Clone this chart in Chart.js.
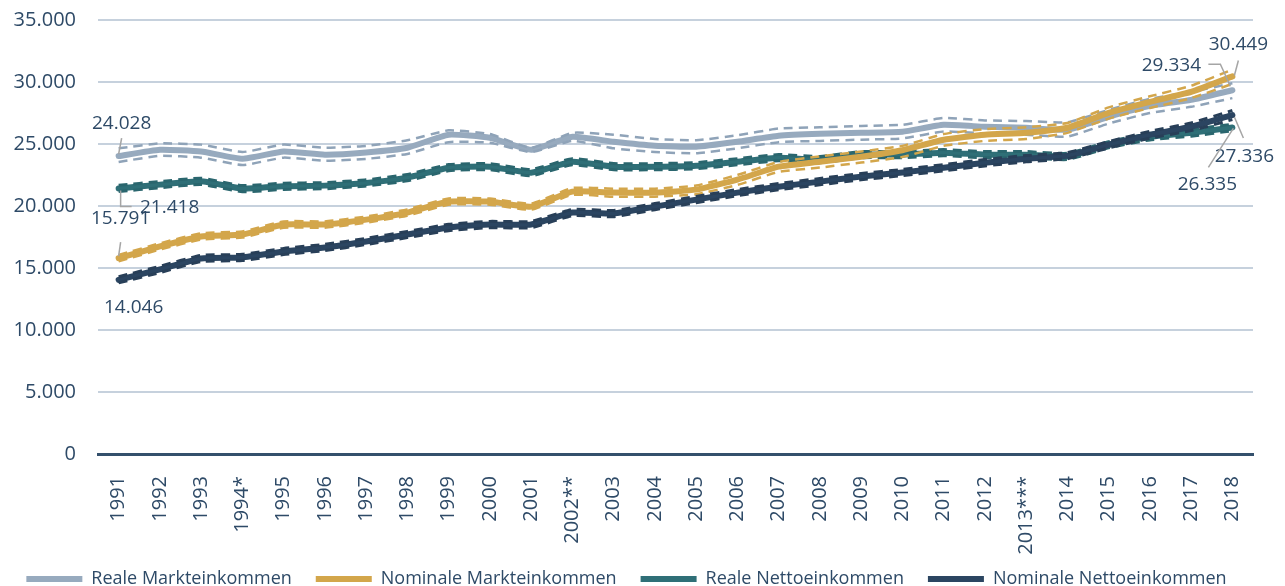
<!DOCTYPE html>
<html>
<head>
<meta charset="utf-8">
<script src="https://cdn.jsdelivr.net/npm/chart.js@4.4.1/dist/chart.umd.min.js"></script>
<style>
  html, body { margin: 0; padding: 0; background: #fff; }
  #wrap { width: 1285px; height: 586px; }
</style>
</head>
<body>
<div id="wrap"><canvas id="chart" width="1285" height="586"></canvas></div>
<script>
const years = ['1991', '1992', '1993', '1994*', '1995', '1996', '1997', '1998', '1999', '2000',
  '2001', '2002**', '2003', '2004', '2005', '2006', '2007', '2008', '2009', '2010',
  '2011', '2012', '2013***', '2014', '2015', '2016', '2017', '2018'];

// Reale Markteinkommen + Band
const realMarkt = [24028, 24540, 24400, 23815, 24400, 24140, 24320, 24700, 25745, 25500, 24540, 25585, 25180, 24860,
  24780, 25180, 25665, 25825, 25900, 25990, 26550, 26390, 26310, 26150, 27195, 28080, 28560, 29334];
const realMarktHi = [24650, 25050, 24950, 24350, 24950, 24700, 24850, 25300, 26100, 25800, 24700, 25900, 25750, 25400,
  25300, 25700, 26250, 26350, 26450, 26550, 27100, 26900, 26850, 26750, 27750, 28650, 29200, 29900];
const realMarktLo = [23550, 24050, 23900, 23300, 23900, 23650, 23800, 24200, 25150, 25100, 24350, 25250, 24650, 24350,
  24250, 24650, 25150, 25250, 25350, 25450, 26000, 25850, 25750, 25600, 26650, 27500, 28000, 28700];

// Nominale Markteinkommen + Band
const nomMarkt = [15791, 16735, 17540, 17700, 18505, 18505, 18900, 19470, 20355, 20355, 19950, 21160, 21080, 21080,
  21320, 22125, 23170, 23570, 23975, 24500, 25345, 25745, 25900, 26310, 27515, 28400, 29200, 30449];
const nomMarktHi = [16050, 16990, 17800, 17950, 18760, 18760, 19150, 19730, 20610, 20600, 20200, 21450, 21400, 21400,
  21650, 22500, 23550, 24000, 24400, 24850, 25800, 26200, 26350, 26700, 27950, 28850, 29700, 31000];
const nomMarktLo = [15540, 16480, 17290, 17450, 18250, 18250, 18650, 19220, 20100, 20110, 19700, 20900, 20750, 20750,
  20950, 21700, 22750, 23100, 23500, 23950, 24850, 25250, 25400, 25900, 27050, 27900, 28700, 29850];

// Reale Nettoeinkommen + Band
const realNetto = [21418, 21723, 21990, 21400, 21590, 21643, 21857, 22286, 23090, 23170, 22690, 23570, 23170, 23170,
  23250, 23570, 23900, 23735, 24140, 24140, 24300, 24140, 24140, 24000, 24940, 25585, 25900, 26335];
const realNettoHi = [21670, 21970, 22240, 21650, 21840, 21890, 22110, 22540, 23340, 23420, 22940, 23820, 23420, 23420,
  23500, 23820, 24150, 23990, 24390, 24390, 24550, 24390, 24390, 24250, 25190, 25840, 26170, 26600];
const realNettoLo = [21170, 21470, 21740, 21150, 21340, 21390, 21610, 22030, 22840, 22920, 22440, 23320, 22920, 22920,
  23000, 23320, 23650, 23480, 23890, 23890, 24050, 23890, 23890, 23750, 24690, 25330, 25630, 26070];

// Nominale Nettoeinkommen + Band
const nomNetto = [14046, 14885, 15770, 15850, 16330, 16655, 17140, 17700, 18265, 18505, 18505, 19470, 19390, 19950,
  20515, 21080, 21560, 21965, 22370, 22700, 23090, 23490, 23815, 24060, 24940, 25745, 26390, 27336];
const nomNettoHi = [14300, 15140, 16020, 16100, 16580, 16910, 17390, 17950, 18520, 18760, 18760, 19720, 19640, 20200,
  20770, 21330, 21810, 22220, 22620, 22950, 23340, 23750, 24070, 24310, 25200, 26020, 26700, 27700];
const nomNettoLo = [13800, 14630, 15520, 15600, 16080, 16400, 16890, 17450, 18010, 18250, 18250, 19220, 19140, 19700,
  20260, 20830, 21310, 21710, 22120, 22450, 22840, 23230, 23560, 23810, 24680, 25470, 26080, 26970];

const TEXT = '#2e4a67';
const FONT = "'Open Sans', 'Noto Sans', sans-serif";
const C_GRAY = '#97aabe', C_GOLD = '#d3a64b', C_TEAL = '#2f6f77', C_NAVY = '#2b4561';

const fmt = v => Math.round(v).toString().replace(/\B(?=(\d{3})+(?!\d))/g, '.');

function mainLine(label, data, color, order) {
  return { label, data, borderColor: color, backgroundColor: color, borderWidth: 6,
    pointRadius: 0, tension: 0.15, borderCapStyle: 'round', borderJoinStyle: 'round', order, main: true };
}
function band(data, color, width, dash, order) {
  return { label: '', data, borderColor: color, borderWidth: width, borderDash: dash,
    pointRadius: 0, tension: 0.15, order, main: false };
}

// Beschriftung der Anfangs- und Endwerte (Offsets relativ zum Datenpunkt)
const endLabels = [
  { data: realMarkt, i: 0, dx: 3, dy: -32, path: [[3, -18], [0, -2]] },
  { data: realNetto, i: 0, dx: 51, dy: 19, path: [[2, 2], [2, 18], [13, 18]] },
  { data: nomMarkt, i: 0, dx: 2, dy: -40, path: [[2, -16], [0, -2]] },
  { data: nomNetto, i: 0, dx: 15, dy: 28, path: null },
  { data: nomMarkt, i: 27, dx: 6, dy: -32, path: [[6, -16], [2, -1]] },
  { data: realMarkt, i: 27, dx: -61, dy: -25, path: [[-24, -26], [-12, -26], [-2, -4]] },
  { data: nomNetto, i: 27, dx: 12, dy: 42, path: [[2, 2], [11, 23]] },
  { data: realNetto, i: 27, dx: -25, dy: 57, path: [[1, 1], [-24, 40]] }
];

const labelPlugin = {
  id: 'endLabels',
  afterLayout(chart) {
    // Platz für lange Jahreslabels (Clip-Bereich der x-Achse)
    chart.scales.x.bottom += 20;
  },
  afterDatasetsDraw(chart) {
    const ctx = chart.ctx, xs = chart.scales.x, ys = chart.scales.y;
    ctx.save();
    endLabels.forEach(l => {
      const px = xs.getPixelForValue(l.i), py = ys.getPixelForValue(l.data[l.i]);
      if (l.path) {
        ctx.strokeStyle = '#a5a5a5';
        ctx.lineWidth = 1.5;
        ctx.beginPath();
        l.path.forEach((p, k) => k ? ctx.lineTo(px + p[0], py + p[1]) : ctx.moveTo(px + p[0], py + p[1]));
        ctx.stroke();
      }
      ctx.fillStyle = TEXT;
      ctx.font = '19px ' + FONT;
      ctx.textAlign = 'center';
      ctx.textBaseline = 'middle';
      ctx.fillText(fmt(l.data[l.i]), px + l.dx, py + l.dy);
    });
    ctx.restore();
  }
};

new Chart(document.getElementById('chart'), {
  type: 'line',
  data: {
    labels: years,
    datasets: [
      mainLine('Reale Markteinkommen', realMarkt, C_GRAY, 8),
      mainLine('Nominale Markteinkommen', nomMarkt, C_GOLD, 4),
      mainLine('Reale Nettoeinkommen', realNetto, C_TEAL, 6),
      mainLine('Nominale Nettoeinkommen', nomNetto, C_NAVY, 2),
      band(realMarktHi, '#8fa3b8', 2.5, [9, 6], 7),
      band(realMarktLo, '#8fa3b8', 2.5, [9, 6], 7),
      band(nomMarktHi, '#d3a64b', 2.5, [9, 6], 3),
      band(nomMarktLo, '#d3a64b', 2.5, [9, 6], 3),
      band(realNettoHi, '#2a666e', 3, [9, 6], 5),
      band(realNettoLo, '#2a666e', 3, [9, 6], 5),
      band(nomNettoHi, '#283f58', 3, [9, 6], 1),
      band(nomNettoLo, '#283f58', 3, [9, 6], 1)
    ]
  },
  options: {
    responsive: false,
    animation: false,
    layout: { padding: { top: 20, right: 32, left: 0, bottom: -12 } },
    scales: {
      x: {
        offset: true,
        grid: { display: false },
        border: { color: '#34506c', width: 3 },
        ticks: { color: TEXT, font: { family: FONT, size: 20 }, minRotation: 90, maxRotation: 90, padding: 14, autoSkip: false },
        afterFit: s => { s.height = 92; }
      },
      y: {
        min: 0, max: 35000,
        grid: { color: '#c6d1dd', lineWidth: 2, drawTicks: true, tickLength: 22, tickColor: 'rgba(0,0,0,0)' },
        border: { display: false },
        ticks: { stepSize: 5000, color: TEXT, font: { family: FONT, size: 20 }, padding: 0, callback: v => fmt(v) },
        afterFit: s => { s.width = 98; }
      }
    },
    plugins: {
      tooltip: { enabled: false },
      legend: {
        position: 'bottom',
        labels: {
          color: TEXT,
          font: { family: FONT, size: 18 },
          boxWidth: 56, boxHeight: 6, padding: 24,
          useBorderRadius: true, borderRadius: 3,
          filter: (item, data) => data.datasets[item.datasetIndex].main,
          sort: (a, b) => a.datasetIndex - b.datasetIndex,
          generateLabels: chart => chart.data.datasets.map((d, i) => ({
            text: d.label, fillStyle: d.borderColor, strokeStyle: d.borderColor, lineWidth: 0,
            fontColor: TEXT, datasetIndex: i, hidden: false
          }))
        }
      }
    }
  },
  plugins: [labelPlugin]
});
</script>
</body>
</html>
